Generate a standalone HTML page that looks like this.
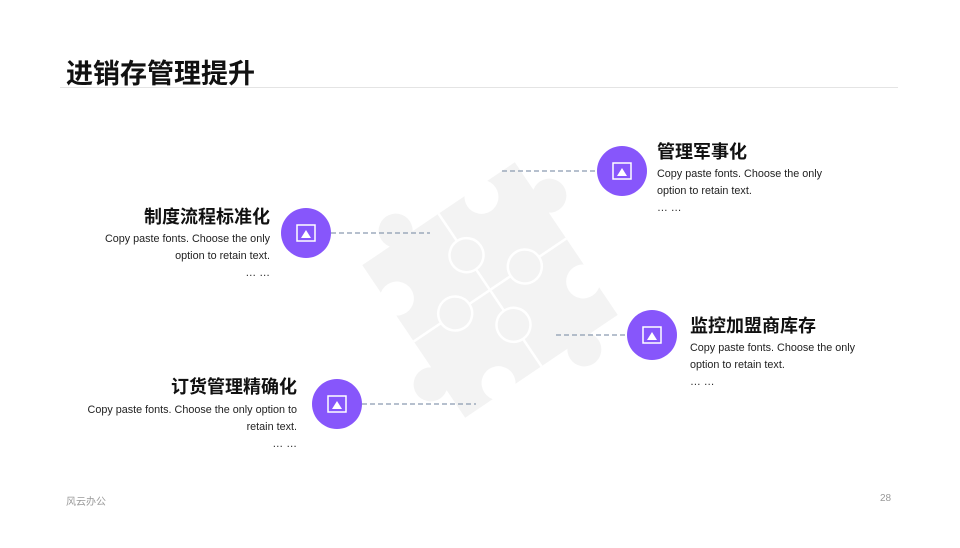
<!DOCTYPE html>
<html><head><meta charset="utf-8"><style>
body{margin:0;width:960px;height:548px;background:#fff;position:relative;overflow:hidden;font-family:"Liberation Sans","Noto Sans CJK SC",sans-serif;}
.t{position:absolute;font-weight:bold;color:#111;font-size:18px;white-space:nowrap}
.d{position:absolute;font-size:10.8px;color:#222;line-height:17px}
.r{text-align:right}
</style></head><body>
<div style="position:absolute;left:66px;top:52px;font-size:27px;font-weight:bold;color:#111">进销存管理提升</div>
<div style="position:absolute;left:60px;top:87px;width:838px;height:1px;background:#e4e4e4"></div>
<svg width="960" height="548" style="position:absolute;left:0;top:0">
<g transform="translate(490,290) rotate(-34)">
<rect x="-92" y="-92" width="184" height="184" fill="#f3f3f3"/>
<circle cx="-45" cy="-102" r="17" fill="#f3f3f3"/>
<circle cx="102" cy="-45" r="17" fill="#f3f3f3"/>
<circle cx="45" cy="102" r="17" fill="#f3f3f3"/>
<circle cx="-102" cy="45" r="17" fill="#f3f3f3"/>
<circle cx="45" cy="-82" r="17" fill="#fff"/>
<circle cx="82" cy="45" r="17" fill="#fff"/>
<circle cx="-45" cy="82" r="17" fill="#fff"/>
<circle cx="-82" cy="-45" r="17" fill="#fff"/>
<path d="M0,-92 V-60 M0,-25 V25 M0,60 V92 M-92,0 H-60 M-25,0 H25 M60,0 H92" stroke="#fff" stroke-width="2.5" fill="none"/>
<circle cx="0" cy="-42" r="17" fill="none" stroke="#fff" stroke-width="2.5"/>
<circle cx="42" cy="0" r="17" fill="none" stroke="#fff" stroke-width="2.5"/>
<circle cx="0" cy="42" r="17" fill="none" stroke="#fff" stroke-width="2.5"/>
<circle cx="-42" cy="0" r="17" fill="none" stroke="#fff" stroke-width="2.5"/>
</g>
<g stroke="#8a9ab0" stroke-width="1.3" stroke-dasharray="5,3">
<line x1="502" y1="171" x2="597" y2="171"/>
<line x1="331" y1="233" x2="430" y2="233"/>
<line x1="556" y1="335" x2="627" y2="335"/>
<line x1="362" y1="404" x2="476" y2="404"/>
</g>
<defs><g id="ic"><circle r="25" fill="#8756fb"/><rect x="-9" y="-8" width="18" height="16" fill="none" stroke="#fff" stroke-width="1.5"/><path d="M0,-3 L5,5 H-5Z" fill="#fff"/></g></defs>
<use href="#ic" x="622" y="171"/><use href="#ic" x="306" y="233"/><use href="#ic" x="652" y="335"/><use href="#ic" x="337" y="404"/>
</svg>
<div class="t" style="left:657px;top:138px">管理军事化</div>
<div class="d" style="left:657px;top:166px">Copy paste fonts. Choose the only<br>option to retain text.<br>… …</div>
<div class="t" style="right:690px;top:203px">制度流程标准化</div>
<div class="d r" style="right:690px;top:231px">Copy paste fonts. Choose the only<br>option to retain text.<br>… …</div>
<div class="t" style="left:690px;top:312px">监控加盟商库存</div>
<div class="d" style="left:690px;top:340px">Copy paste fonts. Choose the only<br>option to retain text.<br>… …</div>
<div class="t" style="right:663px;top:373px">订货管理精确化</div>
<div class="d r" style="right:663px;top:402px">Copy paste fonts. Choose the only option to<br>retain text.<br>… …</div>
<div style="position:absolute;left:66px;top:493px;font-size:10px;color:#999">风云办公</div>
<div style="position:absolute;left:880px;top:493px;font-size:10px;color:#999">28</div>
</body></html>
